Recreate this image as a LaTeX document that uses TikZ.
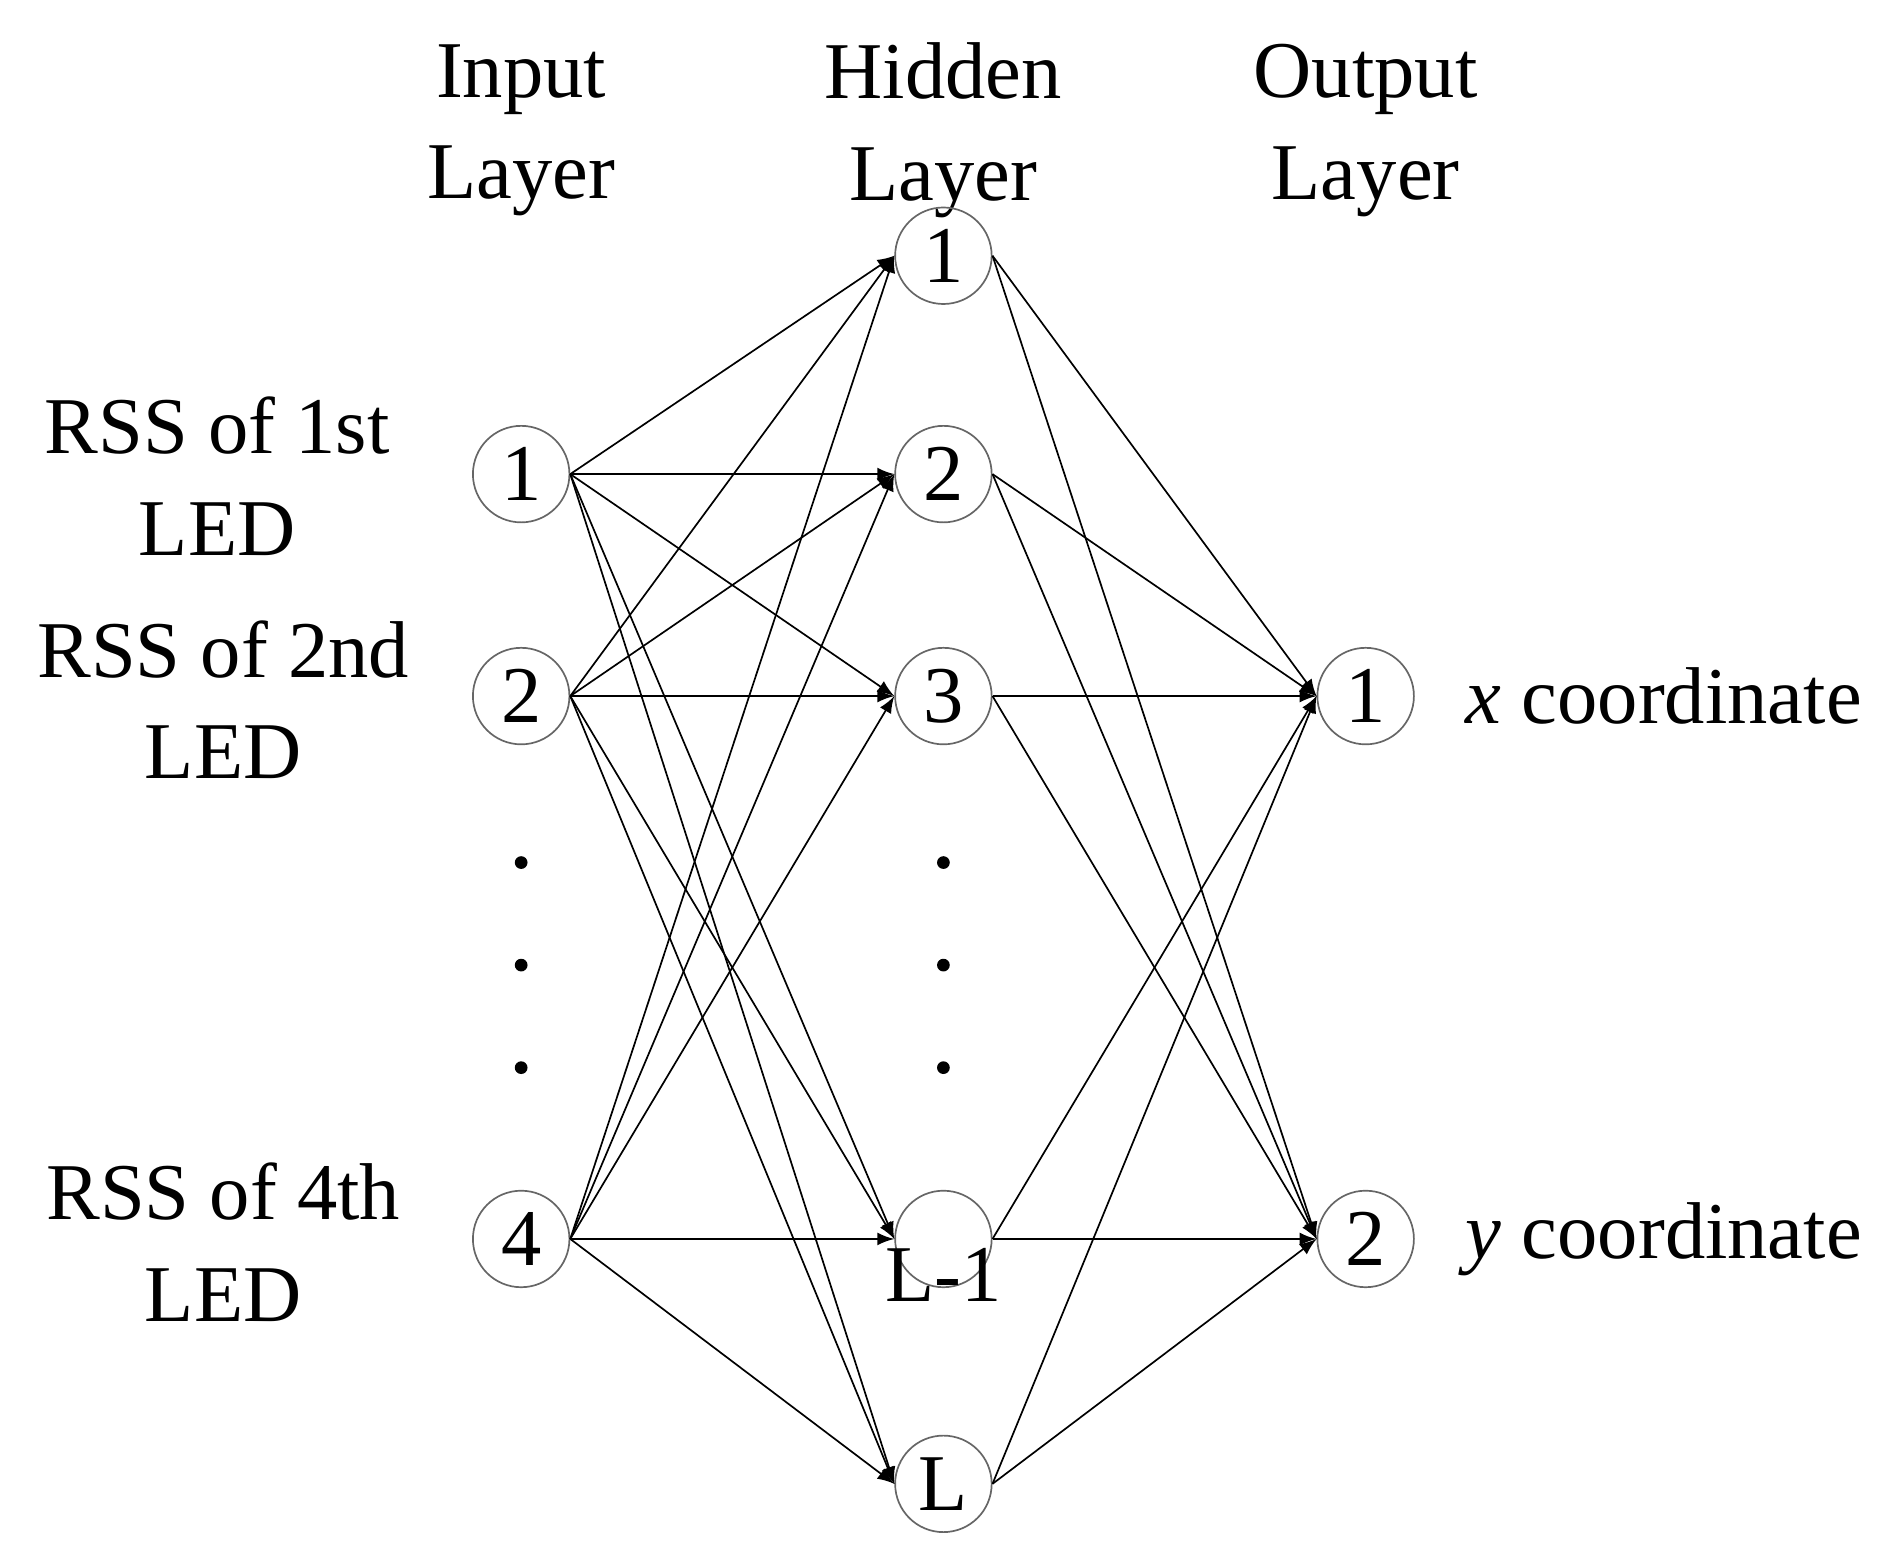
\documentclass[tikz,border=0pt]{standalone}
\usepackage{fontspec}
\setmainfont{Liberation Serif}
\usetikzlibrary{arrows,positioning}
\tikzset{
  neuron/.style={circle, draw=black!60, thin, minimum size=0.8cm, inner sep=0pt, font=\fontsize{19}{24}\selectfont},
  lbl/.style={align=center, font=\fontsize{19}{24}\selectfont},
  conn/.style={->, >=latex, thin}
}
\begin{document}
\begin{tikzpicture}
  \useasboundingbox (0,0) rectangle (15.65,12.9);
  % Layer headings
  \node[lbl] (hin) at (4.32,11.82) {Input\\Layer};
  \node[lbl] (hhid) at (7.82,11.82) {Hidden\\Layer};
  \node[lbl] (hout) at (11.32,11.82) {Output\\Layer};

  % Input layer
  \node[neuron] (i1) at (4.32,8.97) {1};
  \node[neuron] (i2) at (4.32,7.13) {2};
  \node[neuron] (i4) at (4.32,2.63) {4};
  \foreach \y in {5.75,4.9,4.05} {
    \fill (4.32,\y) circle (1.5pt);
  }

  % Hidden layer
  \node[neuron] (h1) at (7.82,10.78) {1};
  \node[neuron] (h2) at (7.82,8.97) {2};
  \node[neuron] (h3) at (7.82,7.13) {3};
  \node[neuron] (h4) at (7.82,2.63) {};
  \node[lbl] (h4t) at (7.82,2.33) {L-1};
  \node[neuron] (h5) at (7.82,0.6) {L};
  \foreach \y in {5.75,4.9,4.05} {
    \fill (7.82,\y) circle (1.5pt);
  }

  % Output layer
  \node[neuron] (o1) at (11.32,7.13) {1};
  \node[neuron] (o2) at (11.32,2.63) {2};

  % Side labels
  \node[lbl] (l1) at (1.8,8.95) {RSS of 1st\\LED};
  \node[lbl] (l2) at (1.85,7.1) {RSS of 2nd\\LED};
  \node[lbl] (l4) at (1.85,2.6) {RSS of 4th\\LED};
  \node[lbl, right=0.3cm of o1] (ox) {\textit{x} coordinate};
  \node[lbl, right=0.3cm of o2] (oy) {\textit{y} coordinate};

  % Connections
  \foreach \i in {i1,i2,i4} {
    \foreach \h in {h1,h2,h3,h4,h5} {
      \draw[conn] (\i.east) -- (\h.west);
    }
  }
  \foreach \h in {h1,h2,h3,h4,h5} {
    \foreach \o in {o1,o2} {
      \draw[conn] (\h.east) -- (\o.west);
    }
  }
\end{tikzpicture}
\end{document}
